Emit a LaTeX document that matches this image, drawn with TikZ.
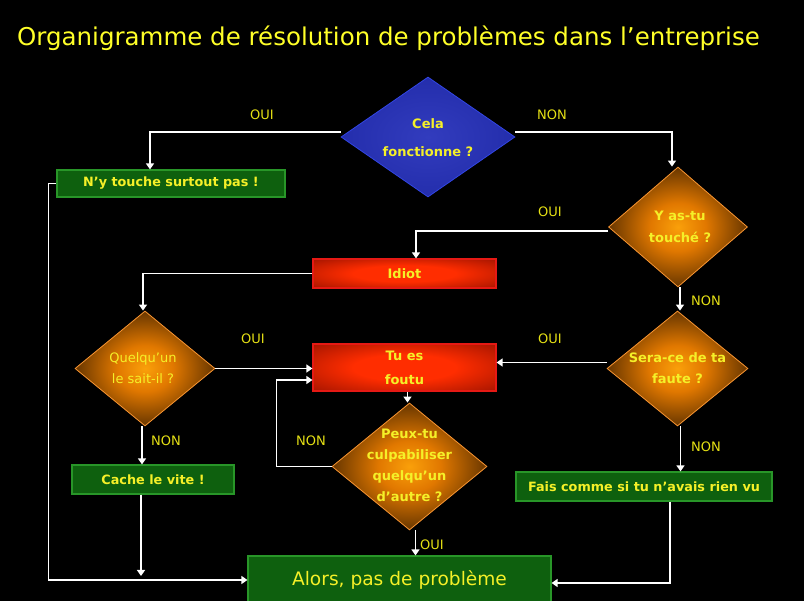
\documentclass[tikz,border=0pt]{standalone}
\usepackage{fontspec}
\setmainfont{DejaVu Sans}
\usetikzlibrary{shapes.geometric,arrows.meta}
\definecolor{ttl}{RGB}{255,255,40}
\definecolor{txt}{RGB}{245,240,40}
\definecolor{lbl}{RGB}{230,225,20}
\definecolor{gfill}{RGB}{14,96,14}
\definecolor{gedge}{RGB}{40,150,40}
\definecolor{rdark}{RGB}{140,14,0}
\definecolor{rbright}{RGB}{255,45,0}
\definecolor{redge}{RGB}{230,25,20}
\definecolor{bcenter}{RGB}{50,60,190}
\definecolor{bouter}{RGB}{30,40,165}
\definecolor{bedge}{RGB}{50,70,230}
\definecolor{ocenter}{RGB}{250,160,10}
\definecolor{omid}{RGB}{225,120,0}
\definecolor{odark}{RGB}{55,28,0}
\definecolor{oedge}{RGB}{250,150,50}
\pgfdeclareradialshading{orangedia}{\pgfpoint{0bp}{0bp}}{color(0bp)=(ocenter); color(10bp)=(omid); color(31bp)=(odark); color(50bp)=(black)}
\pgfdeclareradialshading{bluedia}{\pgfpoint{0bp}{0bp}}{color(0bp)=(bcenter); color(35bp)=(bouter); color(50bp)=(bouter)}
\pgfdeclareradialshading{redbox}{\pgfpoint{0bp}{0bp}}{color(0bp)=(rbright); color(14bp)=(rbright); color(42bp)=(rdark); color(50bp)=(rdark)}
\tikzset{
  gbox/.style={rectangle, draw=gedge, line width=1.2pt, fill=gfill, text=txt, inner sep=0pt,
    font=\bfseries\fontsize{12.8}{15}\selectfont},
  rbox/.style={rectangle, draw=redge, line width=1.2pt, shade, shading=redbox,
    text=txt, inner sep=0pt, align=center},
  odia/.style={diamond, draw=oedge, line width=0.8pt, shade, shading=orangedia, inner sep=0pt},
  bdia/.style={diamond, draw=bedge, line width=0.8pt, shade, shading=bluedia, inner sep=0pt},
  dtext/.style={text=txt, inner sep=0pt, align=center},
  arr/.style={draw=white, line width=1.3pt, -{Triangle[width=8pt,length=6pt]}},
  lab/.style={text=lbl, font=\fontsize{13}{15}\selectfont, inner sep=0pt},
}
\begin{document}
\begin{tikzpicture}[x=1pt,y=-1pt]
\fill[black] (0,0) rectangle (804,601);
\useasboundingbox (0,0) rectangle (804,601);
\node[text=ttl, font=\fontsize{24.5}{30}\selectfont, inner sep=0pt] (title) at (388.5,38) {Organigramme de résolution de problèmes dans l’entreprise};

\node[bdia, minimum width=174pt, minimum height=120pt] (cela) at (428,137) {};
\node[dtext, font=\bfseries\fontsize{13}{28}\selectfont] (celat) at (428,138) {Cela\\fonctionne ?};
\node[gbox, minimum width=228pt, minimum height=27pt] (ny) at (171,183.5) {N’y touche surtout pas !};
\node[odia, minimum width=139pt, minimum height=120pt] (yas) at (678,227) {};
\node[dtext, font=\bfseries\fontsize{13}{22}\selectfont] (yast) at (680,227) {Y as-tu\\touché ?};
\node[rbox, minimum width=183pt, minimum height=29pt, font=\bfseries\fontsize{13}{15}\selectfont] (idiot) at (404.5,273.5) {Idiot};
\node[odia, minimum width=140pt, minimum height=115pt] (quel) at (145,368.5) {};
\node[dtext, font=\fontsize{13}{21}\selectfont] (quelt) at (143,368.5) {Quelqu’un\\le sait-il ?};
\node[rbox, minimum width=183pt, minimum height=47pt, font=\bfseries\fontsize{13}{24}\selectfont] (tu) at (404.5,367.5) {Tu es\\foutu};
\node[odia, minimum width=141pt, minimum height=115pt] (sera) at (677.5,368.5) {};
\node[dtext, font=\bfseries\fontsize{13}{21}\selectfont] (serat) at (677.5,368.5) {Sera-ce de ta\\faute ?};
\node[gbox, minimum width=162pt, minimum height=29pt] (cache) at (153,479.5) {Cache le vite !};
\node[gbox, minimum width=256pt, minimum height=29pt] (fais) at (644,486.5) {Fais comme si tu n’avais rien vu};
\node[odia, minimum width=155pt, minimum height=127pt] (peux) at (409.5,466.5) {};
\node[dtext, font=\bfseries\fontsize{13}{21}\selectfont] (peuxt) at (409.5,465.5) {Peux-tu\\culpabiliser\\quelqu’un\\d’autre ?};
\node[gbox, minimum width=303pt, minimum height=48pt, font=\fontsize{18.6}{22}\selectfont] (alors) at (399.5,580) {Alors, pas de problème};

\coordinate (cachend) at (141,576);

\draw[arr] ([yshift=5pt]cela.west) -| ([xshift=-21pt]ny.north);
\draw[arr] ([yshift=5pt]cela.east) -| ([xshift=-6pt]yas.north);
\draw[arr] ([yshift=-4pt]yas.west) -| ([xshift=11.5pt]idiot.north);
\draw[arr] (idiot.west) -| ([xshift=-2pt]quel.north);
\draw[arr] (quel.east) -- (quel.east -| tu.west);
\draw[arr] ([xshift=-3pt]quel.south) -- ([xshift=-3pt]quel.south |- cache.north);
\draw[arr] ([xshift=-12pt]cache.south) -- (cachend);
\draw[arr] (ny.west) -- ++(-8,0) |- (alors.west);
\draw[arr] ([xshift=2pt]yas.south) -- ([xshift=2pt]yas.south |- sera.north);
\draw[arr] ([yshift=6pt]sera.west) -- ([yshift=6pt]sera.west -| tu.east);
\draw[arr] ([xshift=3pt]sera.south) -- ([xshift=3pt]sera.south |- fais.north);
\draw[arr] ([xshift=26pt]fais.south) |- ([yshift=-3pt]alors.east);
\draw[arr] ([xshift=3pt]tu.south) -- ([xshift=3pt]tu.south |- peux.north);
\draw[arr] (peux.west) -- ++(-55,0) |- ([yshift=-12.5pt]tu.west);
\draw[arr] ([xshift=6pt]peux.south) -- ([xshift=6pt]peux.south |- alors.north);

\node[lab] (l1) at (262,115) {OUI};
\node[lab] (l2) at (552,115) {NON};
\node[lab] (l3) at (550,212) {OUI};
\node[lab] (l4) at (706,301) {NON};
\node[lab] (l5) at (253,339) {OUI};
\node[lab] (l6) at (550,339) {OUI};
\node[lab] (l7) at (166,441) {NON};
\node[lab] (l8) at (311,441) {NON};
\node[lab] (l9) at (706,447) {NON};
\node[lab] (l10) at (432,545) {OUI};
\end{tikzpicture}
\end{document}
